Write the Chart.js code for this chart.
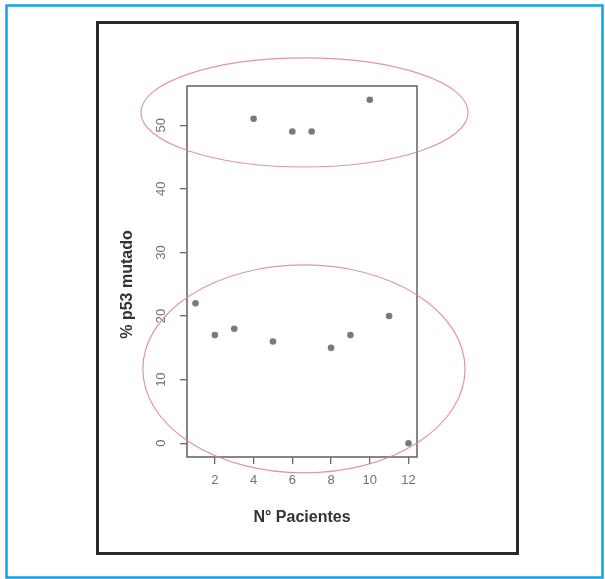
<!DOCTYPE html>
<html>
<head>
<meta charset="utf-8">
<script src="https://cdn.jsdelivr.net/npm/chart.js@4/dist/chart.umd.min.js"></script>
<style>
  html, body { margin: 0; padding: 0; background: #ffffff; }
  canvas { display: block; }
</style>
</head>
<body>
<canvas id="c" width="605" height="579"></canvas>
<script>
// ---- data ----
const patients = [1, 2, 3, 4, 5, 6, 7, 8, 9, 10, 11, 12];
const p53Mutated = [22, 17, 18, 51, 16, 49, 49, 15, 17, 54, 20, 0];
const xTickValues = [2, 4, 6, 8, 10, 12];
const yTickValues = [0, 10, 20, 30, 40, 50];
const xTitle = 'N° Pacientes';
const yTitle = '% p53 mutado';
// group ellipses (data units): centre x, centre y, radius x, radius y
const ellipseCx = [6.63, 6.60];
const ellipseCy = [52.0, 11.68];
const ellipseRx = [8.45, 8.32];
const ellipseRy = [8.57, 16.35];

const FONT = "'Liberation Sans', Arial, Helvetica, sans-serif";

const points = patients.map((p, i) => ({ x: p, y: p53Mutated[i] }));

const framePlugin = {
  id: 'frame',
  beforeDraw(chart) {
    const ctx = chart.ctx;
    ctx.save();
    ctx.fillStyle = '#ffffff';
    ctx.fillRect(0, 0, chart.width, chart.height);
    // blue outer frame
    ctx.strokeStyle = '#12a3e3';
    ctx.lineWidth = 2.5;
    ctx.strokeRect(6.5, 5.5, 596, 572);
    // black figure box
    ctx.strokeStyle = '#2a2a2a';
    ctx.lineWidth = 3;
    ctx.strokeRect(97.5, 22.5, 420, 531);
    ctx.restore();
  },
  afterDatasetsDraw(chart) {
    const ctx = chart.ctx;
    const a = chart.chartArea;
    ctx.save();
    ctx.strokeStyle = '#6a6a6a';
    ctx.lineWidth = 1.6;
    ctx.strokeRect(a.left, a.top, a.right - a.left, a.bottom - a.top);
    ctx.restore();
  },
  afterDraw(chart) {
    const ctx = chart.ctx;
    const xs = chart.scales.x, ys = chart.scales.y;
    ctx.save();
    ctx.strokeStyle = 'rgba(214, 135, 140, 0.85)';
    ctx.lineWidth = 1.2;
    for (let i = 0; i < ellipseCx.length; i++) {
      const cx = xs.getPixelForValue(ellipseCx[i]);
      const cy = ys.getPixelForValue(ellipseCy[i]);
      const rx = Math.abs(xs.getPixelForValue(ellipseCx[i] + ellipseRx[i]) - cx);
      const ry = Math.abs(ys.getPixelForValue(ellipseCy[i] + ellipseRy[i]) - cy);
      ctx.beginPath();
      ctx.ellipse(cx, cy, rx, ry, 0, 0, Math.PI * 2);
      ctx.stroke();
    }
    // y axis title
    ctx.fillStyle = '#333333';
    ctx.font = 'bold 16px ' + FONT;
    ctx.textAlign = 'center';
    ctx.textBaseline = 'middle';
    ctx.translate(128, 284.5);
    ctx.rotate(-Math.PI / 2);
    ctx.fillText(yTitle, 0, 0);
    ctx.restore();
  }
};

new Chart(document.getElementById('c'), {
  type: 'scatter',
  data: {
    datasets: [{
      data: points,
      backgroundColor: '#7a7a7a',
      borderColor: '#7a7a7a',
      borderWidth: 0,
      pointRadius: 3.3,
      pointHoverRadius: 3.3
    }]
  },
  options: {
    responsive: false,
    animation: false,
    events: [],
    layout: { padding: { left: 118, top: 86, right: 188, bottom: 52 } },
    plugins: { legend: { display: false }, tooltip: { enabled: false } },
    scales: {
      x: {
        type: 'linear',
        min: 0.56,
        max: 12.44,
        afterBuildTicks(s) { s.ticks = xTickValues.map(v => ({ value: v })); },
        afterFit(s) { s.height = 70; },
        border: { display: false },
        grid: { drawOnChartArea: false, drawTicks: true, tickLength: 7, color: '#6a6a6a', lineWidth: 1.3 },
        ticks: { color: '#707070', font: { family: FONT, size: 13 }, padding: 9, maxRotation: 0, minRotation: 0 },
        title: { display: true, text: xTitle, color: '#333333', font: { family: FONT, size: 16, weight: 'bold' }, padding: { top: 0, bottom: 0 } }
      },
      y: {
        type: 'linear',
        min: -2.16,
        max: 56.16,
        afterBuildTicks(s) { s.ticks = yTickValues.map(v => ({ value: v })); },
        afterFit(s) { s.width = 69; },
        border: { display: false },
        grid: { drawOnChartArea: false, drawTicks: true, tickLength: 7, color: '#6a6a6a', lineWidth: 1.3 },
        ticks: { color: '#707070', font: { family: FONT, size: 13 }, padding: 11, minRotation: 90, maxRotation: 90, crossAlign: 'center' }
      }
    }
  },
  plugins: [framePlugin]
});
</script>
</body>
</html>
